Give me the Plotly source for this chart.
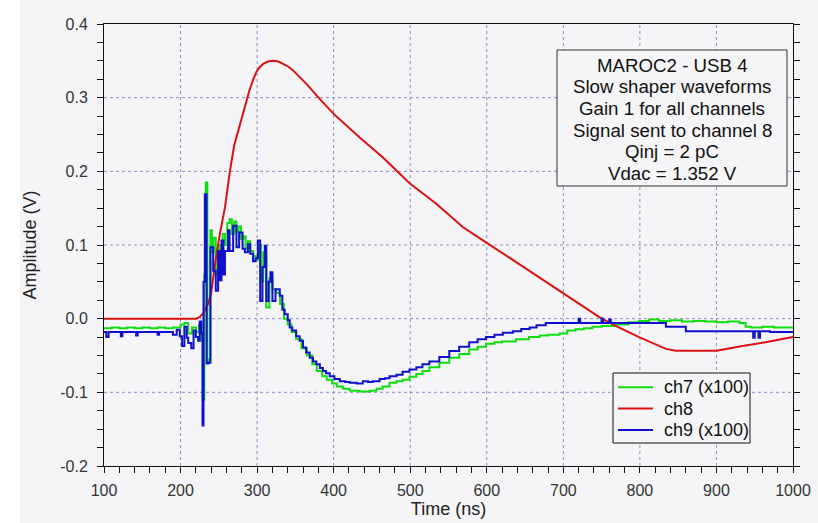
import plotly.graph_objects as go

# ---------------- data ----------------
x_tick_vals = [100, 200, 300, 400, 500, 600, 700, 800, 900, 1000]
x_tick_text = ["100", "200", "300", "400", "500", "600", "700", "800", "900", "1000"]
y_tick_vals = [-0.2, -0.1, 0.0, 0.1, 0.2, 0.3, 0.4]
y_tick_text = ["-0.2", "-0.1", "0.0", "0.1", "0.2", "0.3", "0.4"]
x_minor_step = 20
y_minor_step = 0.025

# ch8 (red)
ch8_t = [100, 220, 225, 230, 236, 240, 245, 251, 258, 264,
         270, 277, 284, 290, 295, 299, 303, 308, 314, 321,
         328, 334, 341, 347, 365, 382, 400, 434, 464, 486,
         500, 534, 569, 600, 616, 651, 660, 699, 747, 769,
         799, 834, 847, 900, 912, 934, 964, 990, 1000]
ch8_v = [0.0, 0.0, 0.002, 0.008, 0.02, 0.035, 0.074, 0.113, 0.151, 0.197,
         0.235, 0.262, 0.29, 0.31, 0.325, 0.335, 0.341, 0.346, 0.349, 0.35,
         0.349, 0.346, 0.342, 0.337, 0.318, 0.298, 0.278, 0.246, 0.219, 0.197,
         0.183, 0.156, 0.124, 0.103, 0.092, 0.068, 0.061, 0.034, 0.002, -0.01,
         -0.025, -0.041, -0.0435, -0.0435, -0.041, -0.037, -0.032, -0.0276, -0.025]

# ch7 x100 (green)
ch7_t = [100, 110, 120, 130, 140, 150, 160, 170, 180, 190,
         200, 205, 210, 215, 220, 224, 227, 229, 231, 233,
         235, 237, 239, 241, 243, 246, 249, 252, 255, 258,
         261, 264, 267, 270, 273, 276, 279, 282, 285, 288,
         291, 295, 299, 302, 305, 308, 312, 316, 320, 325,
         330, 335, 340, 345, 351, 358, 365, 372, 378, 385,
         391, 398, 404, 412, 421, 434, 447, 456, 464, 473,
         482, 490, 499, 508, 516, 525, 538, 551, 564, 577,
         588, 599, 610, 620, 638, 655, 669, 680, 695, 705,
         716, 727, 738, 750, 769, 785, 799, 812, 825, 840,
         855, 870, 885, 900, 915, 930, 938, 945, 960, 975,
         990, 1000]
ch7_v = [-0.013, -0.012, -0.013, -0.012, -0.013, -0.012, -0.013, -0.012, -0.013, -0.012,
         -0.008, -0.006, -0.02, -0.012, -0.018, -0.008, -0.03, -0.11, 0.06, 0.185,
         -0.06, -0.055, 0.12, 0.09, 0.11, 0.06, 0.10, 0.08, 0.115, 0.10,
         0.13, 0.135, 0.115, 0.132, 0.118, 0.125, 0.108, 0.112, 0.095, 0.105,
         0.092, 0.085, 0.08, 0.1, 0.05, 0.09, 0.015, 0.055, 0.04, 0.035,
         0.02, 0.0, -0.008, -0.018, -0.028, -0.04, -0.05, -0.062, -0.071, -0.078,
         -0.083, -0.088, -0.092, -0.095, -0.098, -0.099, -0.098, -0.095, -0.092, -0.087,
         -0.085, -0.083, -0.079, -0.075, -0.071, -0.066, -0.06, -0.053, -0.048, -0.042,
         -0.038, -0.034, -0.032, -0.031, -0.028, -0.025, -0.023, -0.022, -0.02, -0.016,
         -0.0145, -0.013, -0.011, -0.01, -0.008, -0.005, -0.003, -0.001, -0.003, -0.002,
         -0.004, -0.003, -0.004, -0.005, -0.004, -0.006, -0.011, -0.012, -0.011, -0.012,
         -0.012, -0.012]

# ch9 x100 (blue)
ch9_t = [100, 103, 106, 120, 122, 124, 140, 142, 144, 160,
         170, 172, 185, 190, 195, 199, 202, 205, 208, 210,
         214, 217, 220, 223, 225, 227, 228.7, 230, 231.7, 234,
         236.5, 239, 242.6, 246, 249, 251, 253.5, 256, 258, 262,
         264, 268.7, 273, 276.5, 281, 284, 288, 291, 294.7, 298,
         301, 304, 307, 310, 312, 315, 317.4, 320, 324, 329.6,
         333, 336, 340, 342.6, 346, 351, 355.6, 360, 364, 368.7,
         373, 377.4, 382, 386, 390, 394.8, 401, 408, 415, 421,
         430, 438, 445, 451, 460, 467, 473, 482, 490, 499,
         508, 516, 525, 538, 551, 564, 577, 588, 599, 610,
         621, 634, 645, 656, 665, 677, 690, 700, 710, 720,
         722, 740, 750, 752, 760, 762, 780, 800, 815, 834,
         850, 860, 880, 900, 920, 940, 948, 950, 955, 957,
         970, 985, 1000]
ch9_v = [-0.018, -0.025, -0.018, -0.018, -0.024, -0.018, -0.018, -0.023, -0.018, -0.018,
         -0.022, -0.018, -0.018, -0.022, -0.015, -0.024, -0.037, -0.011, -0.026, -0.033,
         -0.04, -0.016, -0.025, -0.03, -0.004, -0.02, -0.145, 0.05, 0.169, -0.061,
         -0.06, 0.097, 0.065, 0.038, 0.092, 0.052, 0.106, 0.06, 0.092, 0.12,
         0.092, 0.126, 0.097, 0.117, 0.095, 0.09, 0.101, 0.088, 0.078, 0.082,
         0.106, 0.024, 0.07, 0.099, 0.024, 0.05, 0.063, 0.024, 0.04, 0.031,
         0.012, 0.006, -0.002, -0.012, -0.016, -0.024, -0.03, -0.039, -0.046, -0.053,
         -0.058, -0.062, -0.067, -0.071, -0.074, -0.078, -0.082, -0.085, -0.086, -0.087,
         -0.088, -0.085, -0.086, -0.085, -0.082, -0.081, -0.078, -0.076, -0.072, -0.069,
         -0.066, -0.062, -0.058, -0.052, -0.044, -0.038, -0.032, -0.028, -0.025, -0.022,
         -0.019, -0.017, -0.014, -0.012, -0.009, -0.006, -0.006, -0.006, -0.006, 0.0,
         -0.006, -0.006, 0.0, -0.006, -0.001, -0.006, -0.006, -0.006, -0.006, -0.011,
         -0.011, -0.017, -0.017, -0.017, -0.017, -0.017, -0.026, -0.017, -0.026, -0.017,
         -0.018, -0.018, -0.018]

series_names = ["ch7 (x100)", "ch8", "ch9 (x100)"]
series_colors = ["#10dd10", "#dd1010", "#1010cc"]

info_lines = ["MAROC2 - USB 4", "Slow shaper waveforms", "Gain 1 for all channels",
              "Signal sent to channel 8", "Qinj = 2 pC", "Vdac = 1.352 V"]

# ---------------- figure ----------------
FONT = "Liberation Sans, Arial, sans-serif"
BG = "#f5f5f7"
GRID = "#8c8cc0"
AX = "#111"
L, R, T, B = 104, 25, 24, 57
W, H = 818, 523
PW, PH = W - L - R, H - T - B


def px_x(px):
    return (px - L) / float(PW)


def px_y(py):
    return 1 - (py - T) / float(PH)


# every tick position (major + minor); labels only on the major ones
x_label_of = dict(zip(x_tick_vals, x_tick_text))
x_all = [x_tick_vals[0] + x_minor_step * i
         for i in range(int((x_tick_vals[-1] - x_tick_vals[0]) / x_minor_step) + 1)]
x_all_text = [x_label_of.get(v, "") for v in x_all]
y_label_of = {round(v, 3): s for v, s in zip(y_tick_vals, y_tick_text)}
y_all = [round(y_tick_vals[0] + y_minor_step * i, 3)
         for i in range(int(round((y_tick_vals[-1] - y_tick_vals[0]) / y_minor_step)) + 1)]
y_all_text = [y_label_of.get(v, "") for v in y_all]

fig = go.Figure()
series = [(ch7_t, ch7_v, "hv"), (ch8_t, ch8_v, "linear"), (ch9_t, ch9_v, "hv")]
for (t, v, shp), name, col in zip(series, series_names, series_colors):
    fig.add_trace(go.Scatter(x=t, y=v, mode="lines", name=name, showlegend=False,
                             line=dict(color=col, width=2, shape=shp)))

tick_font = dict(family=FONT, size=16, color="#333")
title_font = dict(family=FONT, size=18, color="#222")

fig.update_layout(
    xaxis=dict(range=[100, 1000], tickmode="array", tickvals=x_all, ticktext=x_all_text,
               showline=True, linecolor=AX, linewidth=1, mirror=True,
               ticks="outside", tickcolor=AX, ticklen=6, tickwidth=1, ticklabelstandoff=4,
               showgrid=False, zeroline=False, tickfont=tick_font,
               title=dict(text="Time (ns)", font=title_font, standoff=4)),
    yaxis=dict(range=[-0.2, 0.4], tickmode="array", tickvals=y_all, ticktext=y_all_text,
               showline=True, linecolor=AX, linewidth=1, mirror="allticks",
               ticks="outside", tickcolor=AX, ticklen=6, tickwidth=1, ticklabelstandoff=6,
               showgrid=False, zeroline=False, tickfont=tick_font,
               title=dict(text="Amplitude (V)", font=title_font, standoff=18)),
)

# dotted grid at the labelled ticks
for v in x_tick_vals[1:-1]:
    fig.add_shape(type="line", xref="x", yref="paper", x0=v, x1=v, y0=0, y1=1,
                  line=dict(color=GRID, width=1, dash="dot"), layer="below")
for v in y_tick_vals[1:-1]:
    fig.add_shape(type="line", xref="paper", yref="y", x0=0, x1=1, y0=v, y1=v,
                  line=dict(color=GRID, width=1, dash="dot"), layer="below")

# info box: frame + one text line per annotation (tight line spacing like the original)
bx0, bx1 = px_x(557), px_x(787)
fig.add_shape(type="rect", xref="paper", yref="paper", x0=bx0, x1=bx1,
              y0=px_y(186), y1=px_y(50), fillcolor=BG, line=dict(color="#333", width=1),
              layer="above")
line_centers_px = [65, 86.7, 108.3, 130, 151.7, 173.3]
for txt, cy in zip(info_lines, line_centers_px):
    fig.add_annotation(xref="paper", yref="paper", x=(bx0 + bx1) / 2, y=px_y(cy),
                       xanchor="center", yanchor="middle", text=txt, showarrow=False,
                       font=dict(family=FONT, size=18.7, color="#111"))

# legend drawn like the original (tight rows)
fig.add_shape(type="rect", xref="paper", yref="paper", x0=px_x(613), x1=px_x(750),
              y0=px_y(443), y1=px_y(373), fillcolor=BG, line=dict(color="#111", width=1),
              layer="above")
legend_rows_px = [387.3, 408.6, 430]
for name, col, cy in zip(series_names, series_colors, legend_rows_px):
    fig.add_shape(type="line", xref="paper", yref="paper", x0=px_x(618), x1=px_x(653),
                  y0=px_y(cy), y1=px_y(cy), line=dict(color=col, width=2), layer="above")
    fig.add_annotation(xref="paper", yref="paper", x=px_x(662), y=px_y(cy),
                       xanchor="left", yanchor="middle", text=name, showarrow=False,
                       font=dict(family=FONT, size=18, color="#111"))

# white strip on the left edge of the picture
fig.add_shape(type="rect", xref="paper", yref="paper", layer="below",
              x0=px_x(-5), x1=px_x(20), y0=px_y(530), y1=px_y(-5),
              fillcolor="white", line=dict(width=0))

fig.update_layout(width=W, height=H,
                  margin=dict(l=L, r=R, t=T, b=B, autoexpand=False),
                  paper_bgcolor=BG, plot_bgcolor=BG, showlegend=False)

fig.write_html("out.html", config={"displayModeBar": False},
               post_script="document.body.style.margin='0';")
